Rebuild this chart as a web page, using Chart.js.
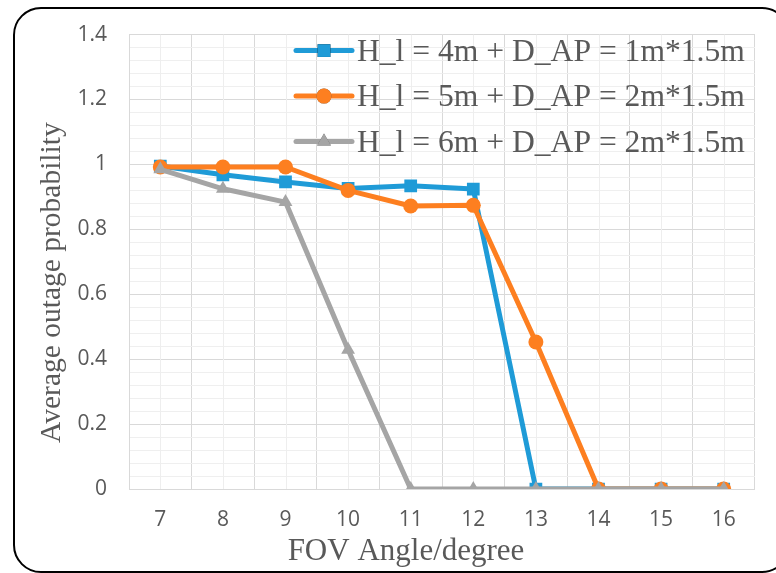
<!DOCTYPE html>
<html>
<head>
<meta charset="utf-8">
<script src="https://cdn.jsdelivr.net/npm/chart.js@4.4.1/dist/chart.umd.min.js"></script>
<style>
  html, body { margin: 0; padding: 0; background: #fff; overflow: hidden; }
  #wrap { position: relative; width: 776px; height: 573px; }
  #frame {
    position: absolute; left: 13px; top: 7px; width: 773px; height: 562px;
    border: 2px solid #000; border-radius: 28px;
  }
  #chart { position: absolute; left: 0; top: 0; }
</style>
</head>
<body>
<div id="wrap">
  <div id="frame"></div>
  <canvas id="chart" width="776" height="573"></canvas>
</div>
<script>
// Chart data
const fovAngles = ['7', '8', '9', '10', '11', '12', '13', '14', '15', '16'];
const seriesNames = [
    'H_l = 4m + D_AP = 1m*1.5m',
    'H_l = 5m + D_AP = 2m*1.5m',
    'H_l = 6m + D_AP = 2m*1.5m'
];
const outage4m = [0.995, 0.968, 0.946, 0.926, 0.934, 0.924, 0, 0, 0, 0];
const outage5m = [0.992, 0.992, 0.992, 0.92, 0.872, 0.874, 0.453, 0, 0, 0];
const outage6m = [0.985, 0.925, 0.884, 0.429, 0, 0, 0, 0, 0, 0];
const yTickMax = 1.4;
const yMajorStep = 0.2;
const yMinorStep = 0.04;

const textGrey = '#595959';
const serif = '"Liberation Serif", "Times New Roman", serif';

function isMajor(v) {
    return Math.abs(v / yMajorStep - Math.round(v / yMajorStep)) < 1e-6;
}

// minor vertical lines at the category centres + legend + axis titles
const extras = {
    id: 'extras',
    beforeDatasetsDraw(chart) {
        const ctx = chart.ctx;
        const xs = chart.scales.x;
        const area = chart.chartArea;
        ctx.save();
        ctx.strokeStyle = '#eeeeee';
        ctx.lineWidth = 1;
        fovAngles.forEach((a, i) => {
            const px = Math.round(xs.getPixelForValue(i)) + 0.5;
            ctx.beginPath();
            ctx.moveTo(px, area.top);
            ctx.lineTo(px, area.bottom);
            ctx.stroke();
        });
        ctx.restore();
    },
    afterDraw(chart) {
        const ctx = chart.ctx;
        const area = chart.chartArea;
        ctx.save();

        // legend inside the plot
        chart.data.datasets.forEach((ds, i) => {
            const y = area.top + 16 + i * 45.5;
            const x0 = area.left + 167;
            ctx.strokeStyle = ds.borderColor;
            ctx.lineWidth = 5;
            ctx.lineCap = 'round';
            ctx.beginPath();
            ctx.moveTo(x0, y);
            ctx.lineTo(x0 + 56, y);
            ctx.stroke();
            Chart.helpers.drawPoint(ctx, {
                pointStyle: ds.pointStyle,
                radius: ds.pointRadius,
                borderWidth: 0
            }, x0 + 28, y);
            ctx.fillStyle = ds.borderColor;
            ctx.fill();
            ctx.fillStyle = textGrey;
            ctx.font = '31.6px ' + serif;
            ctx.textAlign = 'left';
            ctx.textBaseline = 'alphabetic';
            ctx.fillText(seriesNames[i], x0 + 61, y + 10);
        });

        // axis titles
        ctx.fillStyle = textGrey;
        ctx.font = '31px ' + serif;
        ctx.textAlign = 'center';
        ctx.textBaseline = 'alphabetic';
        ctx.fillText('FOV Angle/degree', area.left + 277, 560);

        ctx.translate(60, area.top + 248);
        ctx.rotate(-Math.PI / 2);
        ctx.font = '29.5px ' + serif;
        ctx.fillText('Average outage probability', 0, 0);
        ctx.restore();
    }
};

function pointFill(color) {
    return { borderColor: color, backgroundColor: color, pointBackgroundColor: color, pointBorderColor: color };
}

new Chart(document.getElementById('chart'), {
    type: 'line',
    data: {
        labels: fovAngles,
        datasets: [
            Object.assign({
                label: seriesNames[0],
                data: outage4m,
                pointStyle: 'rect',
                pointRadius: 9,
                order: 2
            }, pointFill('#1f9bd7')),
            Object.assign({
                label: seriesNames[1],
                data: outage5m,
                pointStyle: 'circle',
                pointRadius: 7.5,
                order: 1
            }, pointFill('#fd7f20')),
            Object.assign({
                label: seriesNames[2],
                data: outage6m,
                pointStyle: 'triangle',
                pointRadius: 8,
                order: 0
            }, pointFill('#a5a5a5'))
        ]
    },
    options: {
        responsive: false,
        animation: false,
        devicePixelRatio: 1,
        elements: {
            line: { borderWidth: 5, tension: 0, borderJoinStyle: 'round', borderCapStyle: 'round' },
            point: { borderWidth: 0, hoverRadius: 8 }
        },
        layout: { padding: { top: 32, right: 21, left: 0, bottom: 0 } },
        plugins: {
            legend: { display: false },
            tooltip: { enabled: false }
        },
        scales: {
            x: {
                offset: true,
                grid: { offset: true, color: '#d9d9d9', lineWidth: 1, drawTicks: false },
                border: { display: false },
                ticks: {
                    color: textGrey,
                    padding: 18,
                    font: { family: '"Open Sans", sans-serif', size: 21 }
                },
                afterFit(scale) { scale.height = 84; }
            },
            y: {
                min: 0,
                max: yTickMax,
                grid: {
                    drawTicks: false,
                    color: ctx => isMajor(ctx.tick.value) ? '#d9d9d9' : '#efefef',
                    lineWidth: 1
                },
                border: { display: true, color: '#d9d9d9', width: 1 },
                ticks: {
                    stepSize: yMinorStep,
                    autoSkip: false,
                    color: textGrey,
                    padding: 22,
                    font: { family: '"Open Sans", sans-serif', size: 21 },
                    callback: v => isMajor(v) ? String(Math.round(v * 10) / 10) : ''
                },
                afterFit(scale) { scale.width = 129; }
            }
        }
    },
    plugins: [extras]
});
</script>
</body>
</html>
